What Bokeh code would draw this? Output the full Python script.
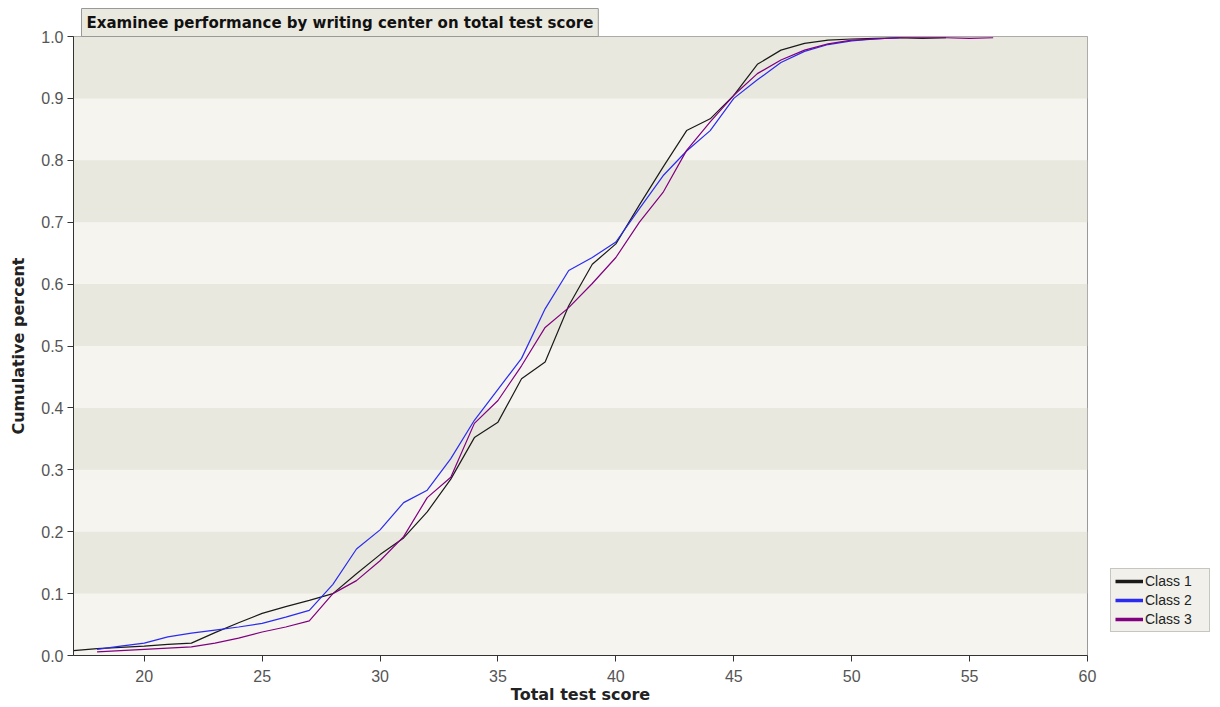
from bokeh.plotting import figure
from bokeh.models import (ColumnDataSource, Range1d, BoxAnnotation, Legend, LegendItem,
                          FixedTicker, NumeralTickFormatter)
from bokeh.embed import file_html
from bokeh.resources import INLINE

# ---- data ----
title_text = "Examinee performance by writing center on total test score"
x_label = "Total test score"
y_label = "Cumulative percent"
series_names = ["Class 1", "Class 2", "Class 3"]
series_colors = ["#1a1a1a", "#2b2bf0", "#800080"]

class1_scores = list(range(17, 55))
class1_cum = [0.008, 0.011, 0.013, 0.015, 0.018, 0.020, 0.037, 0.053, 0.068, 0.079,
              0.089, 0.100, 0.132, 0.163, 0.190, 0.232, 0.285, 0.352, 0.377, 0.447,
              0.474, 0.565, 0.632, 0.665, 0.728, 0.789, 0.848, 0.867, 0.905, 0.955,
              0.978, 0.989, 0.994, 0.996, 0.997, 0.998, 0.997, 0.998]

class2_scores = list(range(18, 53))
class2_cum = [0.010, 0.015, 0.020, 0.030, 0.036, 0.041, 0.046, 0.052, 0.062, 0.073,
              0.115, 0.172, 0.203, 0.247, 0.267, 0.318, 0.380, 0.430, 0.480, 0.560,
              0.622, 0.643, 0.668, 0.722, 0.775, 0.815, 0.848, 0.900, 0.930, 0.958,
              0.976, 0.987, 0.993, 0.996, 0.998]

class3_scores = list(range(18, 57))
class3_cum = [0.006, 0.008, 0.010, 0.012, 0.014, 0.020, 0.028, 0.038, 0.046, 0.056,
              0.100, 0.121, 0.153, 0.192, 0.255, 0.288, 0.375, 0.412, 0.468, 0.530,
              0.562, 0.601, 0.643, 0.700, 0.748, 0.816, 0.862, 0.905, 0.940, 0.962,
              0.978, 0.988, 0.994, 0.996, 0.998, 0.998, 0.998, 0.997, 0.998]

x_ticks = [20, 25, 30, 35, 40, 45, 50, 55, 60]
y_ticks = [0.0, 0.1, 0.2, 0.3, 0.4, 0.5, 0.6, 0.7, 0.8, 0.9, 1.0]

# ---- figure ----
p = figure(frame_width=1014, frame_height=619, output_backend="svg", toolbar_location=None,
           x_range=Range1d(17, 60), y_range=Range1d(0, 1.0),
           min_border_left=73, min_border_right=133, min_border_top=36, min_border_bottom=50,
           background_fill_color="#f5f4ef", border_fill_color="white")

p.grid.visible = False
p.outline_line_color = "#999999"
p.outline_line_width = 1

# title tab
p.title.text = title_text
p.title.text_font = "DejaVu Sans"
p.title.text_font_size = "15px"
p.title.text_font_style = "bold"
p.title.text_color = "#111111"
p.title.align = "left"
p.title.offset = 8
p.title.standoff = 0
p.title.background_fill_color = "#eae9df"
p.title.border_line_color = "#999999"
p.title.padding = 5

# alternating bands
dark = "#e9e8de"
for i in range(len(y_ticks) - 1):
    if i % 2 == 1:
        p.add_layout(BoxAnnotation(bottom=y_ticks[i], top=y_ticks[i + 1],
                                   fill_color=dark, fill_alpha=1.0, line_alpha=0, level="underlay"))

sources = [ColumnDataSource(dict(x=class1_scores, y=class1_cum)),
           ColumnDataSource(dict(x=class2_scores, y=class2_cum)),
           ColumnDataSource(dict(x=class3_scores, y=class3_cum))]
first_points = [(class1_scores[0], class1_cum[0]), (class2_scores[0], class2_cum[0]),
                (class3_scores[0], class3_cum[0])]

items = []
for src, name, col, fp in zip(sources, series_names, series_colors, first_points):
    p.line("x", "y", source=src, line_color=col, line_width=1.2)
    # single-point line: invisible in the plot, supplies a thick legend swatch
    swatch = p.line(x=[fp[0]], y=[fp[1]], line_color=col, line_width=3.5)
    items.append(LegendItem(label=name, renderers=[swatch]))

legend = Legend(items=items, location=(23, 23), orientation="vertical",
                background_fill_color="#f1f0ea", background_fill_alpha=1.0,
                border_line_color="#999999", border_line_width=1,
                label_text_font="Liberation Sans", label_text_font_size="14px",
                label_text_color="#222222", glyph_width=28, glyph_height=16,
                label_height=16, label_width=60, label_standoff=2, spacing=3,
                padding=4, margin=0)
p.add_layout(legend, "right")

# axes
for ax in (p.xaxis[0], p.yaxis[0]):
    ax.axis_line_color = "#333333"
    ax.major_tick_line_color = "#333333"
    ax.minor_tick_line_color = None
    ax.major_tick_out = 6
    ax.major_tick_in = 0
    ax.major_label_text_font = "Liberation Sans"
    ax.major_label_text_font_size = "16px"
    ax.major_label_text_color = "#555555"
    ax.axis_label_text_font = "DejaVu Sans"
    ax.axis_label_text_font_size = "16px"
    ax.axis_label_text_font_style = "bold"
    ax.axis_label_text_color = "#222222"

p.xaxis.ticker = FixedTicker(ticks=x_ticks)
p.yaxis.ticker = FixedTicker(ticks=y_ticks)
p.yaxis.formatter = NumeralTickFormatter(format="0.0")
p.xaxis.axis_label = x_label
p.yaxis.axis_label = y_label
p.xaxis.major_label_standoff = 8
p.xaxis.axis_label_standoff = 0
p.yaxis.major_label_standoff = 4
p.yaxis.axis_label_standoff = 10

open("out.html", "w").write(file_html(p, INLINE))
